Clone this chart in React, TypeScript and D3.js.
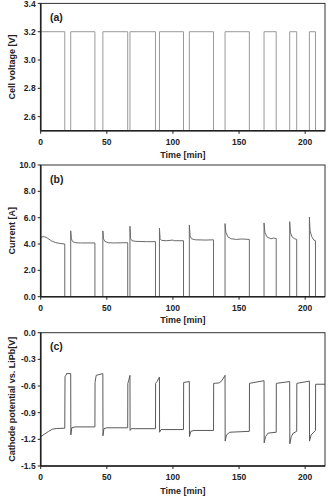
import React from 'react';
import * as d3 from 'd3';

const W = 328;
const H = 497;
const X_LEFT = 40.7;
const X_RIGHT = 325;
const FONT = '"Liberation Sans", Arial, sans-serif';

// on (charging) periods, minutes
const onStart = [0, 22.7, 47.0, 67.5, 89.8, 112.4, 139.4, 168.9, 188.3, 203.2];
const onEnd = [18.2, 41.0, 65.8, 86.8, 108.0, 130.7, 157.8, 178.1, 193.6, 207.8];

const timeTicks = [0, 50, 100, 150, 200];
const voltageTicks = [2.6, 2.8, 3.0, 3.2, 3.4];
const currentTicks = [0, 2, 4, 6, 8, 10];
const potentialTicks = [-1.5, -1.2, -0.9, -0.6, -0.3, 0];

const V_ON = 3.2;
const V_OFF = 2.0; // off-scale, clipped at the bottom

// current during each on period: [t, A]
const currentSegments: [number, number][][] = [
  [[0, 4.45], [1, 4.55], [3, 4.55], [5, 4.45], [8, 4.25], [11, 4.12], [14, 4.05], [18.2, 4.0]],
  [[22.7, 5.0], [23.2, 4.4], [24, 4.2], [26, 4.1], [30, 4.08], [41, 4.08]],
  [[47, 5.0], [47.5, 4.4], [48.5, 4.2], [51, 4.1], [55, 4.08], [65.8, 4.1]],
  [[67.5, 5.35], [68, 4.4], [69, 4.25], [72, 4.2], [80, 4.18], [86.8, 4.18]],
  [[89.8, 5.2], [90.3, 4.4], [91.5, 4.27], [95, 4.25], [100, 4.3], [101, 4.25], [108, 4.25]],
  [[112.4, 5.45], [113, 4.6], [114, 4.4], [117, 4.32], [125, 4.3], [130.7, 4.32]],
  [[139.4, 5.55], [140, 4.9], [141.5, 4.55], [144, 4.4], [148, 4.35], [152, 4.38], [157.8, 4.35]],
  [[168.9, 5.6], [169.5, 4.9], [171, 4.55], [174, 4.4], [176, 4.45], [178.1, 4.42]],
  [[188.3, 5.7], [188.8, 4.9], [190, 4.55], [192, 4.4], [193.6, 4.35]],
  [[203.2, 6.05], [203.7, 5.0], [205, 4.55], [206.5, 4.3], [207.8, 4.25]],
];

// cathode potential vs LiPb: [t, V]
const potential: [number, number][] = [
  [0, -1.17], [3, -1.14], [6, -1.11], [9, -1.085], [12, -1.078], [18.2, -1.075],
  [18.4, -0.49], [19.2, -0.48], [19.5, -0.46], [22.7, -0.46],
  [22.8, -1.15], [23.5, -1.07], [26, -1.06], [41, -1.06],
  [41.1, -0.56], [41.5, -0.52], [42, -0.48], [47, -0.46],
  [47.1, -1.16], [47.8, -1.08], [50, -1.07], [65.8, -1.07],
  [65.9, -0.57], [66.5, -0.54], [67.5, -0.48],
  [67.6, -1.1], [68.5, -1.08], [86.8, -1.08],
  [86.9, -0.57], [88, -0.55], [89.8, -0.5],
  [89.9, -1.12], [91, -1.09], [108, -1.09],
  [108.1, -0.56], [112.4, -0.55],
  [112.5, -1.17], [113.5, -1.11], [116, -1.1], [130.7, -1.1],
  [130.8, -0.57], [135, -0.565], [137, -0.54], [139.4, -0.48],
  [139.5, -1.22], [140.5, -1.15], [143, -1.12], [157.8, -1.11],
  [157.9, -0.57], [168.9, -0.54],
  [169, -1.24], [170, -1.17], [172, -1.13], [178.1, -1.12],
  [178.2, -0.57], [188.3, -0.55],
  [188.4, -1.25], [189.5, -1.17], [191, -1.13], [193.6, -1.11],
  [193.7, -0.57], [203.2, -0.545],
  [203.3, -1.22], [204.5, -1.15], [207.8, -1.1],
  [207.9, -0.58], [215, -0.58],
];

const x = d3.scaleLinear().domain([0, 215]).range([X_LEFT, X_RIGHT]);

function voltagePoints(): [number, number][] {
  const pts: [number, number][] = [];
  onStart.forEach((s, i) => {
    if (i > 0) pts.push([s, V_OFF]);
    pts.push([s, V_ON], [onEnd[i], V_ON], [onEnd[i], V_OFF]);
  });
  pts.push([215, V_OFF]);
  return pts;
}

function currentPoints(): [number, number][] {
  const pts: [number, number][] = [];
  currentSegments.forEach((seg, i) => {
    if (i > 0) pts.push([seg[0][0], 0]);
    seg.forEach((p) => pts.push(p));
    pts.push([seg[seg.length - 1][0], 0]);
  });
  pts.push([215, 0]);
  return pts;
}

type PanelProps = {
  id: string;
  top: number;
  bottom: number;
  domain: [number, number];
  ticks: number[];
  yLabel: string;
  tag: string;
  data: [number, number][];
  stroke: string;
  titleY: number;
};

function Panel({ id, top, bottom, domain, ticks, yLabel, tag, data, stroke, titleY }: PanelProps) {
  const y = d3.scaleLinear().domain(domain).range([bottom, top]);
  const line = d3
    .line<[number, number]>()
    .x((d) => x(d[0]))
    .y((d) => y(d[1]));
  const midY = (top + bottom) / 2;
  return (
    <g>
      <defs>
        <clipPath id={`clip-${id}`}>
          <rect x={X_LEFT} y={top} width={X_RIGHT - X_LEFT} height={bottom - top} />
        </clipPath>
      </defs>
      <path
        d={line(data) ?? ''}
        fill="none"
        stroke={stroke}
        strokeWidth={1}
        clipPath={`url(#clip-${id})`}
      />
      <rect
        x={X_LEFT}
        y={top}
        width={X_RIGHT - X_LEFT}
        height={bottom - top}
        fill="none"
        stroke="#333"
        strokeWidth={1}
      />
      <line x1={X_LEFT} x2={X_LEFT} y1={top} y2={bottom} stroke="#222" strokeWidth={1.6} />
      <line x1={X_LEFT} x2={X_RIGHT} y1={bottom} y2={bottom} stroke="#222" strokeWidth={1.4} />
      {ticks.map((t) => (
        <g key={`y-${t}`}>
          <line x1={X_LEFT - 3} x2={X_LEFT} y1={y(t)} y2={y(t)} stroke="#222" />
          <text
            x={X_LEFT - 5}
            y={Math.max(y(t), 4.5)}
            dy="0.35em"
            textAnchor="end"
            fontSize={8.5}
            fontWeight="bold"
            fill="#222"
          >
            {t.toFixed(1)}
          </text>
        </g>
      ))}
      {timeTicks.map((t) => (
        <g key={`x-${t}`}>
          <line x1={x(t)} x2={x(t)} y1={bottom} y2={bottom + 3} stroke="#222" />
          <text
            x={x(t)}
            y={bottom + 11}
            dy="0.35em"
            textAnchor="middle"
            fontSize={8.5}
            fontWeight="bold"
            fill="#222"
          >
            {t}
          </text>
        </g>
      ))}
      <text
        x={(X_LEFT + X_RIGHT) / 2}
        y={titleY}
        dy="0.35em"
        textAnchor="middle"
        fontSize={9}
        fontWeight="bold"
        fill="#222"
      >
        Time [min]
      </text>
      <text
        transform={`translate(12, ${midY}) rotate(-90)`}
        dy="0.35em"
        textAnchor="middle"
        fontSize={9}
        fontWeight="bold"
        fill="#222"
      >
        {yLabel}
      </text>
      <text x={50} y={top + 14} dy="0.35em" fontSize={10.5} fontWeight="bold" fill="#222">
        {tag}
      </text>
    </g>
  );
}

export default function App() {
  return (
    <svg
      width={W}
      height={H}
      viewBox={`0 0 ${W} ${H}`}
      style={{ position: 'absolute', left: 0, top: 0, background: '#fff' }}
      fontFamily={FONT}
    >
      <rect width={W} height={H} fill="#fff" />
      <Panel
        id="a"
        top={3.4}
        bottom={130.8}
        domain={[2.5, 3.4]}
        ticks={voltageTicks}
        yLabel="Cell voltage [V]"
        tag="(a)"
        data={voltagePoints()}
        stroke="#9a9a9a"
        titleY={155}
      />
      <Panel
        id="b"
        top={165}
        bottom={296.7}
        domain={[0, 10]}
        ticks={currentTicks}
        yLabel="Current [A]"
        tag="(b)"
        data={currentPoints()}
        stroke="#6a6a6a"
        titleY={320}
      />
      <Panel
        id="c"
        top={332.7}
        bottom={466}
        domain={[-1.5, 0]}
        ticks={potentialTicks}
        yLabel="Cathode potential vs. LiPb[V]"
        tag="(c)"
        data={potential}
        stroke="#5a5a5a"
        titleY={491}
      />
    </svg>
  );
}
